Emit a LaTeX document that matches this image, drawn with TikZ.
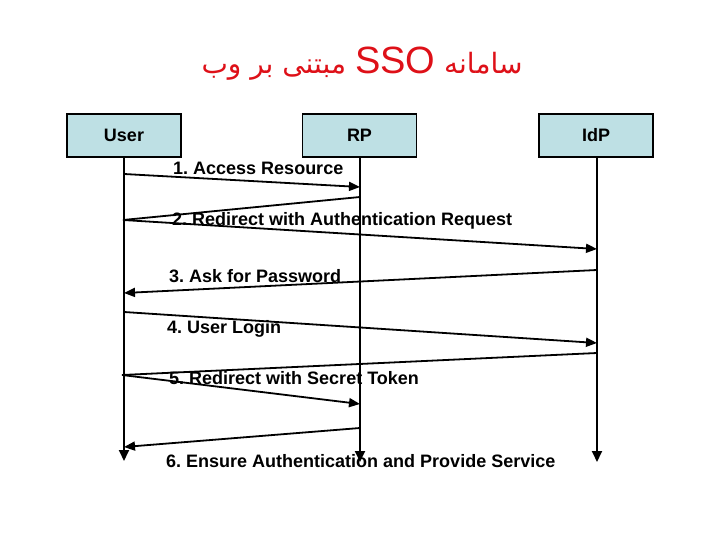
\documentclass[tikz,border=0pt]{standalone}
\usepackage{fontspec}
\setmainfont{Liberation Sans}
\newfontfamily\arabicfont[Script=Arabic]{DejaVu Sans}
\TeXXeTstate=1
\usetikzlibrary{arrows.meta}
\definecolor{boxfill}{RGB}{190,224,228}
\definecolor{titlered}{RGB}{222,16,24}
\tikzset{
  actor/.style={draw=black, line width=1.3pt, fill=boxfill, minimum width=114pt, minimum height=43pt, inner sep=0pt, font=\fontsize{18}{20}\selectfont\bfseries},
  lifeline/.style={line width=1.8pt, -{Triangle[length=11pt,width=10pt]}},
  msg/.style={line width=1.8pt, -{Triangle[length=11pt,width=9pt]}},
  seg/.style={line width=1.8pt},
  lbl/.style={anchor=west, inner sep=0pt, font=\fontsize{18}{20}\selectfont\bfseries}
}
\begin{document}
\frenchspacing
\begin{tikzpicture}[x=1pt,y=-1pt]
\useasboundingbox (0,0) rectangle (720,540);
\node[text=titlered, inner sep=0pt] (title) at (362,64) {\arabicfont\fontsize{28}{32}\selectfont\beginR سامانه \beginL{\fontsize{38}{40}\selectfont\rmfamily SSO}\endL{} مبتنی بر وب\endR};

\node[actor] (user) at (124,135.5) {User};
\node[actor] (rp) at (359.5,135.5) {RP};
\node[actor] (idp) at (596,135.5) {IdP};

\coordinate (userend) at (124,461);
\coordinate (rpend) at (360,462);
\coordinate (idpend) at (597,462);
\draw[lifeline] (user.south -| userend) -- (userend);
\draw[lifeline] (rp.south -| rpend) -- (rpend);
\draw[lifeline] (idp.south -| idpend) -- (idpend);

% message points
\coordinate (m1a) at (124,174);
\coordinate (m1b) at (360,187);
\coordinate (m2a) at (360,197);
\coordinate (m2v) at (123,220);
\coordinate (m2b) at (597,249);
\coordinate (m3a) at (597,270);
\coordinate (m3b) at (124,293);
\coordinate (m4a) at (124,312);
\coordinate (m4b) at (597,343);
\coordinate (m5a) at (597,353);
\coordinate (m5v) at (122,375);
\coordinate (m5b) at (360,404);
\coordinate (m6a) at (360,428);
\coordinate (m6b) at (124,447);

\draw[msg] (m1a) -- (m1b);
\draw[seg] (m2a) -- (m2v);
\draw[msg] (m2v) -- (m2b);
\draw[msg] (m3a) -- (m3b);
\draw[msg] (m4a) -- (m4b);
\draw[seg] (m5a) -- (m5v);
\draw[msg] (m5v) -- (m5b);
\draw[msg] (m6a) -- (m6b);

\node[lbl] (l1) at (173,168) {1. Access Resource};
\node[lbl] (l2) at (172,221) {2. Redirect with Authentication Request};
\node[lbl] (l3) at (169,276) {3. Ask for Password};
\node[lbl] (l4) at (167,329) {4. User Login};
\node[lbl] (l5) at (169,378) {5. Redirect with Secret Token};
\node[lbl] (l6) at (166,461) {6. Ensure Authentication and Provide Service};
\end{tikzpicture}
\end{document}
